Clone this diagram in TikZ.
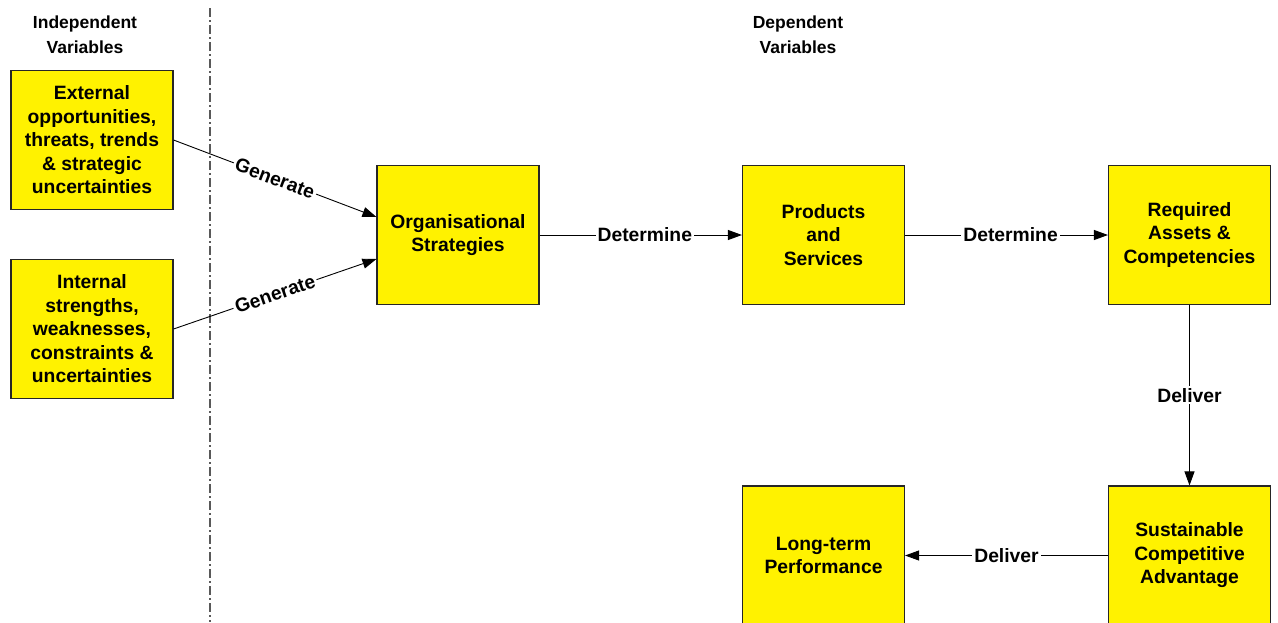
\documentclass[tikz,border=0pt]{standalone}
\usepackage{fontspec}
\setmainfont{Liberation Sans}
\usetikzlibrary{arrows.meta}
\begin{document}
\begin{tikzpicture}[x=1pt,y=-1pt,
  box/.style={draw=black!85,line width=1.1pt,fill=yellow,minimum width=162pt,minimum height=139pt,inner sep=0pt,align=center,font=\fontsize{19.3}{23.5}\selectfont\bfseries},
  hdr/.style={align=center,font=\fontsize{17.5}{24.5}\selectfont\bfseries},
  lbl/.style={fill=white,inner sep=2pt,font=\fontsize{19.3}{21}\selectfont\bfseries},
  conn/.style={line width=0.9pt,-{Triangle[length=14pt,width=10pt]}}]
\useasboundingbox (0,0) rectangle (1278,622);
\fill[white] (0,0) rectangle (1278,622);
\coordinate (dtop) at (210,8);
\coordinate (dbot) at (210,622);
\draw[gray!70!black,line width=1.2pt,dash pattern=on 9pt off 3pt on 2pt off 3pt] (dtop) -- (dbot);
\node[hdr] (hind) at (85,34.5) {Independent\\Variables};
\node[hdr] (hdep) at (798,34.5) {Dependent\\Variables};
\node[box] (ext) at (92,140) {External\\opportunities,\\threats, trends\\\& strategic\\uncertainties};
\node[box] (int) at (92,329) {Internal\\strengths,\\weaknesses,\\constraints \&\\uncertainties};
\node[box] (org) at (458,235) {Organisational\\Strategies};
\node[box] (prod) at (823.5,235) {Products\\and\\Services};
\node[box] (req) at (1189.5,235) {Required\\Assets \&\\Competencies};
\node[box] (sus) at (1189.5,555.5) {Sustainable\\Competitive\\Advantage};
\node[box] (lt) at (823.5,555.5) {Long-term\\Performance};
\draw[conn] (ext.east) -- node[lbl,sloped]{Generate} ([yshift=18pt]org.west);
\draw[conn] (int.east) -- node[lbl,sloped]{Generate} ([yshift=-24pt]org.west);
\draw[conn] (org.east) -- node[lbl,pos=0.52]{Determine} (prod.west);
\draw[conn] (prod.east) -- node[lbl,pos=0.52]{Determine} (req.west);
\draw[conn] (req.south) -- node[lbl,pos=0.5]{Deliver} (sus.north);
\draw[conn] (sus.west) -- node[lbl,pos=0.5]{Deliver} (lt.east);
\end{tikzpicture}
\end{document}
